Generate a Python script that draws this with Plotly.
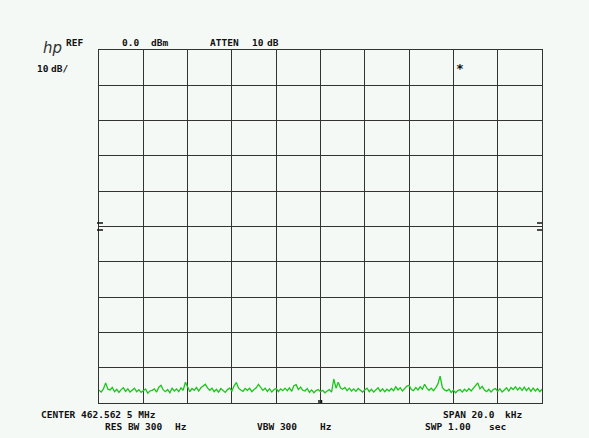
import plotly.graph_objects as go

# Frequency offset from center (kHz), 0.1 kHz steps over the 20 kHz span
freq_start_khz = -10.0
freq_step_khz = 0.1
trace_dbm = [
    -96.4, -96.9, -96.0, -94.3, -96.1, -96.3, -95.6, -96.8, -96.1, -97.0,
    -96.2, -95.7, -96.7, -96.0, -96.9, -96.3, -95.8, -96.8, -96.2, -97.0,
    -96.5, -96.0, -97.2, -96.6, -96.4, -96.0, -96.9, -95.5, -95.0, -96.3,
    -96.8, -96.2, -97.1, -95.8, -96.6, -96.0, -96.8, -95.7, -96.4, -94.1,
    -95.4, -96.8, -95.9, -96.4, -95.6, -96.6, -95.7, -95.2, -94.7, -95.7,
    -96.4, -95.8, -96.8, -96.1, -96.9, -95.9, -96.5, -97.0, -96.2, -95.8,
    -96.6, -95.1, -94.2, -95.8, -96.3, -96.7, -95.9, -96.4, -95.8, -96.8,
    -96.2, -95.7, -94.7, -95.7, -96.4, -95.8, -96.7, -96.0, -96.9, -96.2,
    -95.9, -96.8, -96.0, -96.5, -95.8, -96.5, -95.7, -96.7, -95.1, -94.8,
    -96.2, -95.5, -96.4, -96.6, -95.9, -97.0, -96.3, -97.1, -96.5, -96.2,
    -96.8, -96.4, -97.1, -96.6, -96.2, -96.9, -93.2, -95.8, -94.1, -95.7,
    -96.1, -95.6, -96.5, -95.8, -96.6, -96.0, -96.7, -95.9, -96.4, -96.9,
    -96.3, -95.8, -96.8, -96.1, -96.9, -96.2, -95.7, -96.7, -96.0, -96.8,
    -96.1, -96.6, -95.9, -96.5, -95.4, -96.3, -95.7, -96.6, -95.8, -95.2,
    -95.0, -96.2, -96.5, -95.6, -96.3, -95.4, -96.1, -94.7, -95.8, -96.4,
    -95.8, -96.5, -95.7, -94.6, -92.4, -95.6, -96.3, -96.6, -96.1, -97.0,
    -96.4, -97.1, -96.5, -96.2, -96.9, -96.1, -96.7, -95.9, -96.6, -95.8,
    -95.3, -94.3, -96.0, -95.3, -96.3, -96.8, -96.1, -96.9, -96.2, -95.9,
    -96.7, -96.0, -96.9, -96.2, -95.7, -96.6, -95.6, -96.2, -95.4, -96.3,
    -95.6, -96.4, -95.5, -96.5, -95.7, -96.7, -95.8, -96.6, -95.9, -96.8,
    -96.1,
]
freq_khz = [round(freq_start_khz + i * freq_step_khz, 2) for i in range(len(trace_dbm))]

ref_level = 0.0
db_per_div = 10
n_vdiv = 10
span_khz = 20.0

W, H = 589, 438
L, R, T, B = 99, 542, 50, 403  # plot area in pixels
BG = "#f5f9f6"

def px(x):
    return (x - L) / (R - L)

def py(y):
    return (B - y) / (B - T)

fig = go.Figure()
fig.add_trace(go.Scatter(
    x=freq_khz, y=trace_dbm, mode="lines",
    line=dict(color="#1cc41c", width=1.3), hoverinfo="skip", showlegend=False,
))

font = dict(family="DejaVu Sans Mono", size=9.5, color="#111")
texts = [
    ("REF", 64, 43), ("0.0", 120, 43), ("dBm", 149, 43),
    ("ATTEN", 208, 43), ("10", 250, 43), ("dB", 265, 43),
    ("10", 35, 69), ("dB/", 49, 69),
    ("CENTER 462.562 5 MHz", 39, 414),
    ("RES BW 300", 103, 426), ("Hz", 173, 426),
    ("VBW 300", 255, 426), ("Hz", 318, 426),
    ("SPAN 20.0", 441, 414), ("kHz", 503, 414),
    ("SWP 1.00", 423, 426), ("sec", 487, 426),
]
annotations = []
for t, x, y in texts:
    annotations.append(dict(
        text="<b>" + t + "</b>", x=px(x), y=py(y), xref="paper", yref="paper",
        xanchor="left", yanchor="middle", showarrow=False, font=font,
    ))
# HP logo
annotations.append(dict(
    text="<i>hp</i>", x=px(41), y=py(48), xref="paper", yref="paper",
    xanchor="left", yanchor="middle", showarrow=False,
    font=dict(family="DejaVu Sans", size=15, color="#333"),
))
# marker
annotations.append(dict(
    text="<b>*</b>", x=px(460), y=py(69), xref="paper", yref="paper",
    xanchor="center", yanchor="middle", showarrow=False,
    font=dict(family="DejaVu Sans Mono", size=13, color="#111"),
))

shapes = []
for yy in (223, 230):
    shapes.append(dict(type="line", xref="paper", yref="paper",
                       x0=px(97), x1=px(103), y0=py(yy), y1=py(yy),
                       line=dict(color="#111", width=1.5)))
    shapes.append(dict(type="line", xref="paper", yref="paper",
                       x0=px(537), x1=px(542), y0=py(yy), y1=py(yy),
                       line=dict(color="#111", width=1.5)))
shapes.append(dict(type="line", xref="paper", yref="paper",
                   x0=px(319), x1=px(319), y0=0, y1=py(400),
                   line=dict(color="#111", width=1.5)))
shapes.append(dict(type="line", xref="paper", yref="paper",
                   x0=px(321.5), x1=px(321.5), y0=0, y1=py(400),
                   line=dict(color="#111", width=1.5)))

fig.update_layout(
    width=W, height=H,
    margin=dict(l=L, r=W - R, t=T, b=H - B, pad=0),
    paper_bgcolor=BG, plot_bgcolor=BG,
    annotations=annotations, shapes=shapes,
    xaxis=dict(range=[-span_khz / 2, span_khz / 2], dtick=span_khz / 10, tick0=0,
               showgrid=True, gridcolor="#333", gridwidth=1,
               showline=True, linecolor="#333", linewidth=1, mirror=True,
               zeroline=False, showticklabels=False, ticks=""),
    yaxis=dict(range=[ref_level - db_per_div * n_vdiv, ref_level], dtick=db_per_div,
               showgrid=True, gridcolor="#333", gridwidth=1,
               showline=True, linecolor="#333", linewidth=1, mirror=True,
               zeroline=False, showticklabels=False, ticks=""),
)
fig.write_html(
    "out.html",
    config={"displayModeBar": False},
    post_script="document.body.style.margin='0';document.body.style.background='%s';" % BG,
)
